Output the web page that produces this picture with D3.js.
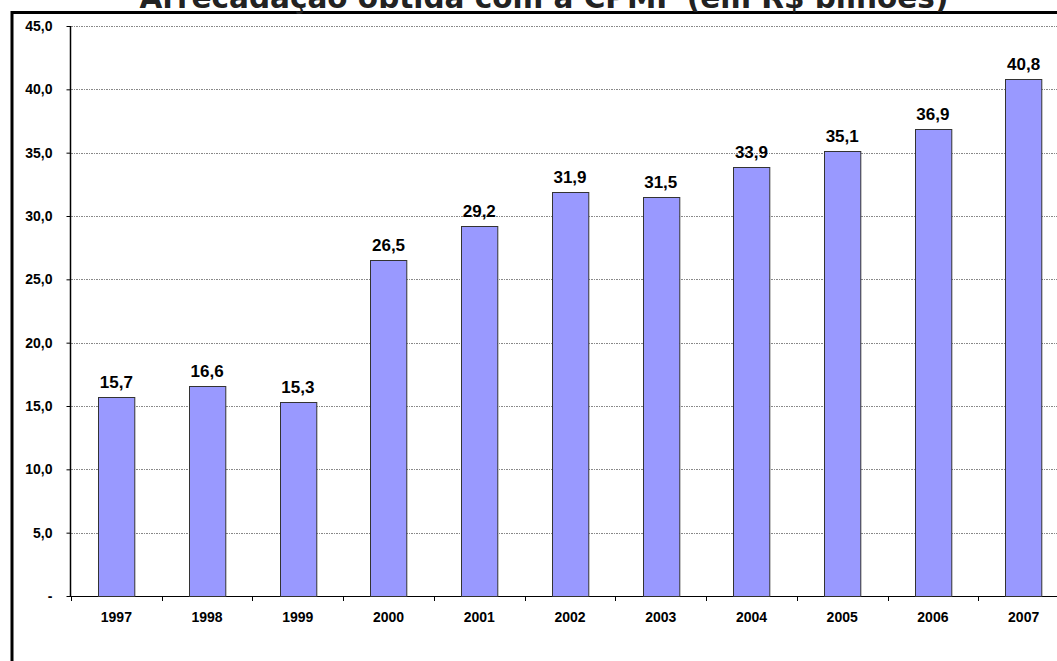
<!DOCTYPE html>
<html><head><meta charset="utf-8">
<script src="https://cdn.jsdelivr.net/npm/d3@7"></script>
<style>body{margin:0;background:#fff;} svg{display:block;}</style>
</head><body>
<script>
const title = "Arrecadação obtida com a CPMF (em R$ bilhões)";
const categories = ["1997","1998","1999","2000","2001","2002","2003","2004","2005","2006","2007"];
const values = [15.7,16.6,15.3,26.5,29.2,31.9,31.5,33.9,35.1,36.9,40.8];
const yTicks = [0,5,10,15,20,25,30,35,40,45];

const W = 1057, H = 661;
const FONT = "'Liberation Sans', Arial, sans-serif";
const svg = d3.select("body").append("svg").attr("width", W).attr("height", H);
const fmt = v => v === 0 ? "-" : v.toFixed(1).replace(".", ",");

const x = d3.scaleBand().domain(categories).range([71, 1069]).paddingInner(0.6).paddingOuter(0.3);
const xb = d3.scaleBand().domain(categories).range([71, 1069]);
const y = d3.scaleLinear().domain([0, 45]).range([596, 26]);

// outer frame
svg.append("line").attr("x1", 12).attr("x2", W).attr("y1", 12.5).attr("y2", 12.5).attr("stroke", "#000").attr("stroke-width", 3);
svg.append("line").attr("x1", 12).attr("x2", 12).attr("y1", 11).attr("y2", H).attr("stroke", "#000").attr("stroke-width", 3);

// title
svg.append("text").attr("x", 544).attr("y", 8).attr("text-anchor", "middle")
  .attr("font-family", "DejaVu Sans").attr("font-weight", "bold").attr("font-size", 29.5).attr("fill", "#222")
  .text(title);

// gridlines
svg.append("g").selectAll("line").data(yTicks.filter(d => d > 0)).join("line")
  .attr("x1", 71).attr("x2", W).attr("y1", d => Math.round(y(d)) + 0.5).attr("y2", d => Math.round(y(d)) + 0.5)
  .attr("stroke", "#888").attr("stroke-width", 1).attr("stroke-dasharray", "2,1,1,1");

// y axis
const yAxis = d3.axisLeft(y).tickValues(yTicks).tickFormat(fmt).tickSize(4).tickPadding(14);
const gy = svg.append("g").attr("transform", "translate(70.5,0)").call(yAxis);
gy.select(".domain").attr("stroke", "#000").attr("stroke-width", 1.5).attr("d", "M0," + y(0) + "V" + y(45));
gy.selectAll("text").attr("font-family", FONT).attr("font-weight", "bold").attr("font-size", 14).attr("fill", "#000");

// x axis
const xAxis = d3.axisBottom(xb).tickSize(0).tickPadding(16);
const gx = svg.append("g").attr("transform", "translate(0,596.5)").call(xAxis);
gx.select(".domain").attr("stroke", "#000").attr("stroke-width", 1).attr("d", "M70,0H" + W);
gx.selectAll("text").attr("font-family", FONT).attr("font-weight", "bold").attr("font-size", 14).attr("fill", "#000");
// tick marks between categories
svg.append("g").selectAll("line").data(categories).join("line")
  .attr("x1", d => Math.round(xb(d)) + 0.5).attr("x2", d => Math.round(xb(d)) + 0.5)
  .attr("y1", 596).attr("y2", 601).attr("stroke", "#000");

// bars
svg.append("g").selectAll("rect").data(values).join("rect")
  .attr("x", (d, i) => Math.round(x(categories[i])) + 0.5)
  .attr("y", d => Math.round(y(d)) + 0.5)
  .attr("width", x.bandwidth())
  .attr("height", d => y(0) - Math.round(y(d)))
  .attr("fill", "#9999FF").attr("stroke", "#333").attr("stroke-width", 1);

// value labels
svg.append("g").selectAll("text").data(values).join("text")
  .attr("x", (d, i) => x(categories[i]) + x.bandwidth() / 2)
  .attr("y", d => y(d) - 9)
  .attr("text-anchor", "middle")
  .attr("font-family", FONT).attr("font-weight", "bold").attr("font-size", 17).attr("fill", "#000")
  .text(d => fmt(d));
</script>
</body></html>
